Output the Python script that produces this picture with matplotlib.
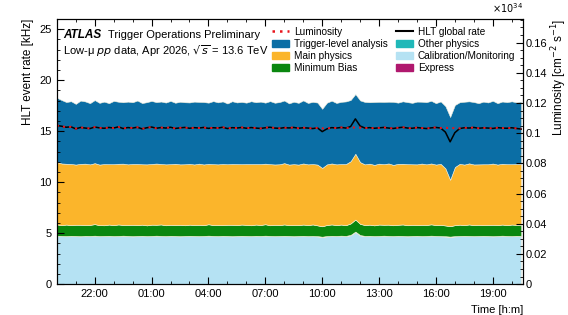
import numpy as np
import matplotlib.pyplot as plt
from matplotlib.patches import Patch
from matplotlib.lines import Line2D
from matplotlib.ticker import MultipleLocator, FuncFormatter

plt.rcParams['font.family'] = ['Liberation Sans', 'DejaVu Sans']

# hours since 20:00, one sample every 0.25 h
t = np.arange(99) * 0.25

calib = [4.72, 4.70, 4.69, 4.71, 4.70, 4.68, 4.71, 4.70, 4.72, 4.69,
         4.70, 4.71, 4.69, 4.70, 4.72, 4.70, 4.68, 4.70, 4.71, 4.69,
         4.70, 4.72, 4.70, 4.69, 4.71, 4.70, 4.68, 4.70, 4.71, 4.70,
         4.69, 4.70, 4.72, 4.70, 4.69, 4.71, 4.70, 4.68, 4.70, 4.71,
         4.70, 4.69, 4.71, 4.70, 4.72, 4.70, 4.69, 4.70, 4.71, 4.70,
         4.68, 4.70, 4.71, 4.69, 4.70, 4.68, 4.62, 4.69, 4.71, 4.70,
         4.72, 4.70, 4.80, 5.12, 4.78, 4.70, 4.71, 4.69, 4.70, 4.72,
         4.70, 4.69, 4.71, 4.70, 4.68, 4.70, 4.71, 4.69, 4.70, 4.72,
         4.70, 4.69, 4.67, 4.63, 4.68, 4.70, 4.71, 4.70, 4.69, 4.70,
         4.71, 4.70, 4.68, 4.70, 4.72, 4.70, 4.69, 4.71, 4.70]
other = [0.02] * 99
express = [0.01] * 99
minbias = [1.10, 1.05, 1.12, 1.04, 1.09, 1.11, 1.05, 1.08, 1.13, 1.06,
           1.04, 1.10, 1.07, 1.12, 1.05, 1.08, 1.11, 1.06, 1.09, 1.04,
           1.10, 1.07, 1.12, 1.05, 1.08, 1.06, 1.11, 1.04, 1.09, 1.07,
           1.10, 1.05, 1.12, 1.06, 1.08, 1.04, 1.09, 1.11, 1.06, 1.10,
           1.08, 1.05, 1.10, 1.07, 1.12, 1.04, 1.09, 1.06, 1.11, 1.05,
           1.08, 1.06, 1.10, 1.07, 1.12, 1.05, 1.02, 1.08, 1.11, 1.06,
           1.09, 1.05, 1.12, 1.18, 1.10, 1.06, 1.09, 1.04, 1.11, 1.07,
           1.10, 1.05, 1.08, 1.12, 1.06, 1.09, 1.04, 1.10, 1.07, 1.11,
           1.06, 1.09, 1.05, 1.02, 1.07, 1.10, 1.05, 1.12, 1.06, 1.09,
           1.04, 1.08, 1.11, 1.06, 1.09, 1.05, 1.12, 1.07, 1.10]
main = [6.12, 6.05, 5.96, 6.00, 5.90, 5.97, 6.02, 5.93, 5.98, 5.94,
        6.00, 5.92, 5.97, 5.95, 6.01, 5.93, 5.96, 5.99, 5.92, 5.98,
        5.95, 6.00, 5.93, 5.97, 5.94, 6.01, 5.92, 5.98, 5.96, 5.93,
        5.99, 5.95, 5.92, 5.97, 5.94, 6.00, 5.93, 5.96, 5.98, 5.92,
        5.96, 6.00, 5.93, 5.97, 5.94, 5.99, 5.92, 5.96, 6.01, 5.94,
        5.97, 5.93, 5.99, 5.95, 5.92, 5.96, 5.72, 5.94, 5.98, 5.95,
        5.93, 5.99, 6.10, 6.45, 6.05, 5.95, 5.98, 5.93, 5.97, 5.94,
        6.00, 5.92, 5.97, 5.95, 5.99, 5.93, 5.96, 6.00, 5.94, 5.97,
        5.93, 5.98, 5.60, 4.55, 5.70, 5.96, 5.93, 5.99, 5.95, 5.92,
        5.97, 5.94, 6.00, 5.93, 5.96, 5.98, 5.92, 5.97, 5.95]
tla = [6.30, 6.22, 6.05, 6.15, 5.95, 6.20, 6.10, 6.00, 6.18, 6.05,
       6.12, 5.98, 6.20, 6.08, 6.02, 6.15, 6.05, 6.22, 6.00, 6.10,
       6.18, 6.02, 6.12, 6.06, 6.20, 5.98, 6.14, 6.08, 6.02, 6.16,
       6.05, 6.12, 6.00, 6.18, 6.08, 6.13, 5.96, 6.15, 6.04, 6.10,
       6.02, 6.16, 6.06, 6.12, 5.98, 6.18, 6.05, 6.10, 6.14, 6.00,
       6.12, 6.05, 6.18, 6.02, 6.10, 6.08, 5.80, 6.05, 6.15, 6.02,
       6.10, 6.14, 6.00, 5.85, 6.05, 6.12, 6.02, 6.16, 6.06, 6.10,
       6.05, 6.18, 6.00, 6.12, 6.08, 6.02, 6.15, 6.06, 6.10, 6.14,
       6.02, 6.12, 6.10, 6.15, 6.08, 6.04, 6.16, 6.08, 6.12, 6.00,
       6.14, 6.06, 6.15, 6.02, 6.10, 6.08, 6.16, 6.04, 6.12]
hlt = [15.55, 15.48, 15.38, 15.42, 15.22, 15.36, 15.30, 15.25, 15.40, 15.32,
       15.28, 15.36, 15.30, 15.42, 15.25, 15.35, 15.30, 15.38, 15.22, 15.33,
       15.40, 15.28, 15.35, 15.30, 15.38, 15.26, 15.32, 15.36, 15.28, 15.34,
       15.30, 15.36, 15.27, 15.33, 15.30, 15.38, 15.25, 15.34, 15.30, 15.36,
       15.28, 15.35, 15.30, 15.26, 15.33, 15.38, 15.30, 15.27, 15.34, 15.31,
       15.36, 15.28, 15.33, 15.30, 15.25, 15.32, 14.95, 15.22, 15.34, 15.30,
       15.36, 15.30, 15.45, 16.20, 15.50, 15.30, 15.34, 15.28, 15.32, 15.36,
       15.30, 15.26, 15.33, 15.38, 15.30, 15.28, 15.35, 15.30, 15.25, 15.32,
       15.36, 15.30, 14.90, 13.95, 14.85, 15.25, 15.33, 15.30, 15.36, 15.28,
       15.32, 15.30, 15.26, 15.34, 15.30, 15.28, 15.33, 15.26, 15.20]
lumi = [0.1050, 0.1046, 0.1039, 0.1042, 0.1030, 0.1038, 0.1034, 0.1031, 0.1040, 0.1035,
        0.1032, 0.1038, 0.1034, 0.1041, 0.1031, 0.1037, 0.1034, 0.1039, 0.1029, 0.1036,
        0.1040, 0.1032, 0.1037, 0.1034, 0.1039, 0.1031, 0.1035, 0.1038, 0.1032, 0.1036,
        0.1034, 0.1038, 0.1032, 0.1036, 0.1034, 0.1039, 0.1031, 0.1036, 0.1034, 0.1038,
        0.1032, 0.1037, 0.1034, 0.1031, 0.1036, 0.1039, 0.1034, 0.1032, 0.1036, 0.1035,
        0.1038, 0.1032, 0.1036, 0.1034, 0.1031, 0.1035, 0.1032, 0.1030, 0.1036, 0.1034,
        0.1038, 0.1034, 0.1036, 0.1038, 0.1036, 0.1034, 0.1036, 0.1032, 0.1035, 0.1038,
        0.1034, 0.1031, 0.1036, 0.1039, 0.1034, 0.1032, 0.1037, 0.1034, 0.1031, 0.1035,
        0.1038, 0.1034, 0.1035, 0.1034, 0.1033, 0.1032, 0.1036, 0.1034, 0.1038, 0.1032,
        0.1035, 0.1034, 0.1031, 0.1036, 0.1034, 0.1032, 0.1036, 0.1031, 0.1030]

tick_pos = [2, 5, 8, 11, 14, 17, 20, 23]
tick_lab = ['22:00', '01:00', '04:00', '07:00', '10:00', '13:00', '16:00', '19:00']

c_calib = '#b5e2f3'
c_other = '#20b8b8'
c_express = '#b0186e'
c_mb = '#0a870f'
c_main = '#fbb52b'
c_tla = '#0b6ea5'

fig = plt.figure(figsize=(5.68, 3.15), dpi=100)
ax = fig.add_axes([0.100, 0.098, 0.821, 0.842])

ax.stackplot(t, calib, other, express, minbias, main, tla,
             colors=[c_calib, c_other, c_express, c_mb, c_main, c_tla],
             edgecolor='#f4f0dc', linewidth=0.4)
ax.plot(t, hlt, color='black', lw=1.1)

ax.set_xlim(0, 24.6)
ax.set_ylim(0, 26)
ax.set_xticks(tick_pos)
ax.set_xticklabels(tick_lab)
ax.xaxis.set_minor_locator(MultipleLocator(1))
ax.yaxis.set_major_locator(MultipleLocator(5))
ax.yaxis.set_minor_locator(MultipleLocator(1))
ax.tick_params(which='both', direction='in', top=True, labelsize=8)
ax.tick_params(which='major', length=5)
ax.tick_params(which='minor', length=2.5)
ax.set_ylabel('HLT event rate [kHz]', fontsize=8.5, loc='top')
ax.set_xlabel('Time [h:m]', fontsize=8, loc='right')

ax2 = ax.twinx()
ax2.plot(t, lumi, color='#e8141c', ls=(0, (1, 2)), lw=1.5)
ax2.set_ylim(0, 26 / 148)
ax2.yaxis.set_major_locator(MultipleLocator(0.02))
ax2.yaxis.set_minor_locator(MultipleLocator(0.005))
ax2.yaxis.set_major_formatter(FuncFormatter(lambda v, p: '%g' % round(v, 3)))
ax2.tick_params(which='both', direction='in', labelsize=8, pad=2)
ax2.tick_params(which='major', length=5)
ax2.tick_params(which='minor', length=2.5)
ax2.set_ylabel('Luminosity [cm$^{-2}$ s$^{-1}$]', fontsize=8.5, labelpad=1,
               loc='top')
ax2.text(1.0, 1.015, r'$\times 10^{34}$', transform=ax2.transAxes,
         ha='right', va='bottom', fontsize=7)

ax.text(0.013, 0.928, 'ATLAS', transform=ax.transAxes, fontsize=8.5,
        fontweight='bold', fontstyle='italic', va='baseline')
ax.text(0.109, 0.928, 'Trigger Operations Preliminary', transform=ax.transAxes,
        fontsize=8, va='baseline')
ax.text(0.013, 0.864, r'Low-μ $pp$ data, Apr 2026, $\sqrt{s}$ = 13.6 TeV',
        transform=ax.transAxes, fontsize=8, va='baseline')

handles = [Line2D([], [], color='#e8141c', ls=(0, (1, 2)), lw=1.8),
           Patch(color=c_tla), Patch(color=c_main), Patch(color=c_mb),
           Line2D([], [], color='black', lw=1.5),
           Patch(color=c_other), Patch(color=c_calib), Patch(color=c_express)]
labels = ['Luminosity', 'Trigger-level analysis', 'Main physics', 'Minimum Bias',
          'HLT global rate', 'Other physics', 'Calibration/Monitoring', 'Express']
ax2.legend(handles, labels, ncol=2, loc='upper right', fontsize=7.2, frameon=False,
           handlelength=1.7, handleheight=0.8, labelspacing=0.2,
           columnspacing=0.8, handletextpad=0.5, borderaxespad=0.4)

fig.savefig('out.png', dpi=100)
